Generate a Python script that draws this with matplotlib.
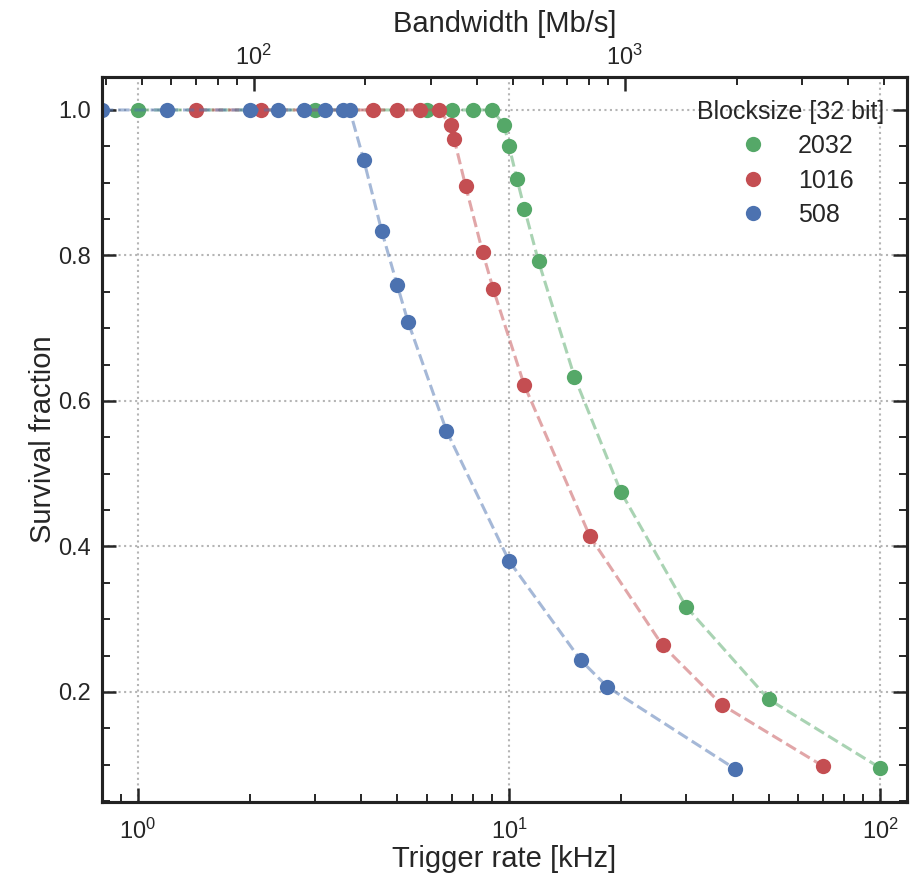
import matplotlib
matplotlib.use("Agg")
import matplotlib.pyplot as plt
from matplotlib.ticker import MultipleLocator

plt.rcParams['font.family'] = ['Liberation Sans', 'DejaVu Sans']
plt.rcParams['mathtext.fontset'] = 'custom'
plt.rcParams['mathtext.rm'] = 'Liberation Sans'
plt.rcParams['mathtext.it'] = 'Liberation Sans:italic'
plt.rcParams['text.color'] = '#262626'
plt.rcParams['axes.labelcolor'] = '#262626'
plt.rcParams['xtick.color'] = '#262626'
plt.rcParams['ytick.color'] = '#262626'

# ---- data ----
labels = ["2032", "1016", "508"]
colors = ["#55A868", "#C44E52", "#4C72B0"]

green_x = [1.0, 3.0, 6.0, 7.0, 8.0, 9.0, 9.7, 10.0, 10.5, 11.0, 12.0, 15.0, 20.0, 30.0, 50.0, 100.0]
green_y = [1.0, 1.0, 1.0, 1.0, 1.0, 1.0, 0.979, 0.950, 0.905, 0.864, 0.792, 0.633, 0.475, 0.317, 0.190, 0.0955]

red_x = [1.43, 2.15, 4.31, 5.0, 5.74, 6.46, 6.97, 7.11, 7.63, 8.48, 9.06, 10.98, 16.5, 25.9, 37.4, 70.3]
red_y = [1.0, 1.0, 1.0, 1.0, 1.0, 1.0, 0.979, 0.960, 0.896, 0.805, 0.754, 0.622, 0.414, 0.264, 0.1825, 0.0977]

blue_x = [0.8, 1.2, 2.0, 2.39, 2.81, 3.19, 3.57, 3.72, 4.06, 4.54, 4.99, 5.34, 6.78, 10.0, 15.6, 18.4, 40.7]
blue_y = [1.0, 1.0, 1.0, 1.0, 1.0, 1.0, 1.0, 1.0, 0.931, 0.833, 0.760, 0.709, 0.559, 0.380, 0.2435, 0.207, 0.094]

series_x = [green_x, red_x, blue_x]
series_y = [green_y, red_y, blue_y]

mbps_per_khz = 48.768  # bandwidth conversion for top axis
xlim = (0.8, 118.0)

fig = plt.figure(figsize=(9.22, 8.77), dpi=100)
ax = fig.add_axes([0.1106, 0.0855, 0.8731, 0.8267])

for xs, ys, c, lab in zip(series_x, series_y, colors, labels):
    ax.plot(xs, ys, linestyle='--', color=c, alpha=0.5, linewidth=2.2)
    ax.plot(xs, ys, linestyle='none', marker='o', markersize=11,
            markeredgewidth=0, color=c, label=lab)

ax.set_xscale('log')
ax.set_xlim(*xlim)
ax.yaxis.set_major_locator(MultipleLocator(0.2))
ax.yaxis.set_minor_locator(MultipleLocator(0.05))
ax.grid(True, which='major', linestyle=':', color='#b5b5b5', linewidth=1.5)

ax.tick_params(which='both', direction='in', right=True, top=False, labelsize=17)
ax.tick_params(axis='x', which='both', pad=12)
ax.tick_params(axis='y', which='both', pad=8)
ax.tick_params(which='major', length=10, width=1.8)
ax.tick_params(which='minor', length=6, width=1.4)

ax.set_xlabel('Trigger rate [kHz]', fontsize=21, labelpad=1)
ax.set_ylabel('Survival fraction', fontsize=21, labelpad=1)

for sp in ax.spines.values():
    sp.set_linewidth(2.2)
    sp.set_color('#222222')

ax2 = ax.twiny()
ax2.set_xscale('log')
ax2.set_xlim(xlim[0] * mbps_per_khz, xlim[1] * mbps_per_khz)
ax2.tick_params(which='both', direction='in', labelsize=17, pad=5)
ax2.tick_params(which='major', length=10, width=1.8)
ax2.tick_params(which='minor', length=6, width=1.4)
ax2.set_xlabel('Bandwidth [Mb/s]', fontsize=21, labelpad=9)
ax2.grid(False)
for sp in ax2.spines.values():
    sp.set_linewidth(2.2)
    sp.set_color('#222222')

leg = ax.legend(title='Blocksize [32 bit]', loc='upper right', frameon=False,
                fontsize=18, title_fontsize=18, labelspacing=0.42)

fig.savefig('out.png', dpi=100)
